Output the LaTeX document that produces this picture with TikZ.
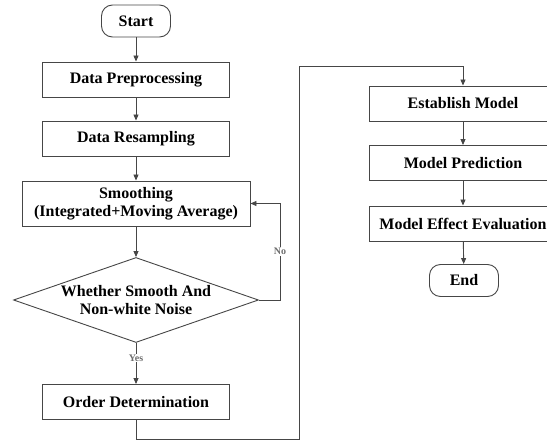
\documentclass[tikz,border=0pt]{standalone}
\usepackage{fontspec}
\setmainfont{Liberation Serif}
\usetikzlibrary{shapes.geometric,arrows.meta}
\definecolor{linegray}{RGB}{70,70,70}
\definecolor{labelgray}{RGB}{110,110,110}
\tikzset{
	procbox/.style={draw=linegray,line width=0.9pt,minimum width=187,minimum height=35,inner sep=0pt,font=\fontsize{16}{18.5}\selectfont\bfseries},
	termbox/.style={draw=linegray,line width=0.9pt,rounded corners=11pt,minimum width=69,minimum height=32,inner sep=0pt,font=\fontsize{16}{18.5}\selectfont\bfseries},
	decbox/.style={draw=linegray,line width=0.9pt,diamond,aspect=2.88,minimum width=245,minimum height=85,inner sep=0pt,align=center,font=\fontsize{16}{18.5}\selectfont\bfseries},
	flow/.style={draw=linegray,line width=0.9pt,-{Triangle[length=6pt,width=5pt]}},
	lab/.style={fill=white,inner sep=1pt,text=labelgray,font=\fontsize{10}{12}\selectfont\bfseries}
}
\begin{document}
\begin{tikzpicture}[x=1pt,y=-1pt]
	\useasboundingbox (0,0) rectangle (547,441);
	% left column
	\node[termbox] (start) at (136,21) {Start};
	\node[procbox] (prep) at (136,79.5) {Data Preprocessing};
	\node[procbox] (resamp) at (136,138.5) {Data Resampling};
	\node[procbox,minimum width=228,minimum height=45,align=center] (smooth) at (136,203.5) {Smoothing\\(Integrated+Moving Average)};
	\node[decbox] (check) at (136,300) {Whether Smooth And\\Non-white Noise};
	\node[procbox] (order) at (136,402) {Order Determination};
	% right column
	\node[procbox] (model) at (463,103.5) {Establish Model};
	\node[procbox] (pred) at (463,163) {Model Prediction};
	\node[procbox] (eval) at (463,223.5) {Model Effect Evaluation};
	\node[termbox] (end) at (464,280.5) {End};
	\coordinate (nocorner) at (280,300);
	\coordinate (bottomleft) at (136,439);
	\coordinate (bottomright) at (299,439);
	\coordinate (topleft) at (299,66);
	\coordinate (topright) at (463,66);
	% connectors
	\draw[flow] (start) -- (prep);
	\draw[flow] (prep) -- (resamp);
	\draw[flow] (resamp) -- (smooth);
	\draw[flow] (smooth) -- (check);
	\draw[flow] (check) -- node[lab,pos=0.37]{Yes} (order);
	\draw[flow] (check.east) -- (nocorner) -- node[lab,pos=0.5]{No} (nocorner |- smooth.east) -- (smooth.east);
	\draw[flow] (order) -- (bottomleft) -- (bottomright) -- (topleft) -- (topright) -- (model);
	\draw[flow] (model) -- (pred);
	\draw[flow] (pred) -- (eval);
	\draw[flow] (eval) -- (end);
\end{tikzpicture}
\end{document}
